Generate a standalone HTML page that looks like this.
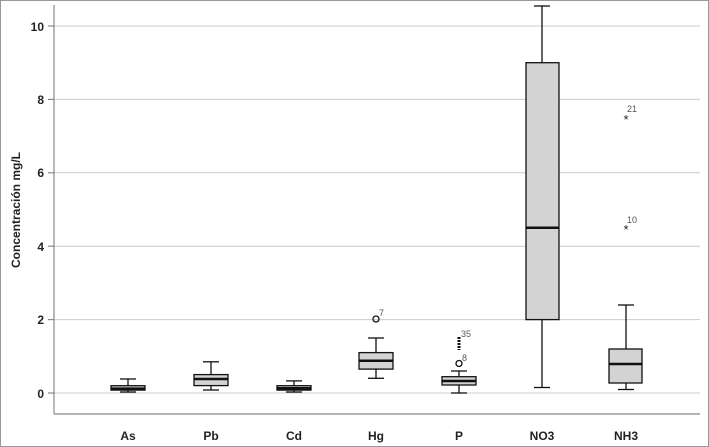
<!DOCTYPE html><html><head><style>body{margin:0;background:#fff}svg{display:block}</style></head><body>
<svg width="709" height="447" xmlns="http://www.w3.org/2000/svg" font-family="Liberation Sans, sans-serif">
<rect x="0.5" y="0.5" width="708" height="446" fill="#fff" stroke="#999"/>
<g stroke="#ccc" stroke-width="1">
<line x1="54" x2="700" y1="26" y2="26"/><line x1="54" x2="700" y1="99.4" y2="99.4"/><line x1="54" x2="700" y1="172.8" y2="172.8"/><line x1="54" x2="700" y1="246.2" y2="246.2"/><line x1="54" x2="700" y1="319.6" y2="319.6"/><line x1="54" x2="700" y1="393" y2="393"/>
</g>
<g stroke="#888" stroke-width="1.2"><line x1="54" y1="5" x2="54" y2="414"/><line x1="54" y1="414" x2="700" y2="414"/>
<line x1="48" x2="54" y1="26" y2="26"/><line x1="48" x2="54" y1="99.4" y2="99.4"/><line x1="48" x2="54" y1="172.8" y2="172.8"/><line x1="48" x2="54" y1="246.2" y2="246.2"/><line x1="48" x2="54" y1="319.6" y2="319.6"/><line x1="48" x2="54" y1="393" y2="393"/></g>
<g font-size="12" font-weight="bold" fill="#222" text-anchor="end"><text x="44" y="31">10</text><text x="44" y="104">8</text><text x="44" y="177">6</text><text x="44" y="251">4</text><text x="44" y="324">2</text><text x="44" y="398">0</text></g>
<text transform="translate(20,210) rotate(-90)" font-size="12" font-weight="bold" fill="#222" text-anchor="middle">Concentración mg/L</text>
<g font-size="12" font-weight="bold" fill="#222" text-anchor="middle"><text x="128" y="440">As</text><text x="211" y="440">Pb</text><text x="294" y="440">Cd</text><text x="376" y="440">Hg</text><text x="459" y="440">P</text><text x="542" y="440">NO3</text><text x="626" y="440">NH3</text></g>
<g stroke="#111" stroke-width="1.3" fill="#d3d3d3">
<line x1="128" x2="128" y1="379" y2="392"/><line x1="120" x2="136" y1="379" y2="379"/><line x1="120" x2="136" y1="392" y2="392"/><rect x="111" y="385.7" width="34" height="4.4"/><line x1="111" x2="145" y1="388.6" y2="388.6" stroke-width="2.5"/>
<line x1="211" x2="211" y1="361.8" y2="390"/><line x1="203" x2="219" y1="361.8" y2="361.8"/><line x1="203" x2="219" y1="390" y2="390"/><rect x="194" y="374.6" width="34" height="11"/><line x1="194" x2="228" y1="379" y2="379" stroke-width="2.5"/>
<line x1="294" x2="294" y1="380.9" y2="392"/><line x1="286" x2="302" y1="380.9" y2="380.9"/><line x1="286" x2="302" y1="392" y2="392"/><rect x="277" y="385.7" width="34" height="4.4"/><line x1="277" x2="311" y1="388.2" y2="388.2" stroke-width="2.5"/>
<line x1="376" x2="376" y1="338" y2="378.3"/><line x1="368" x2="384" y1="338" y2="338"/><line x1="368" x2="384" y1="378.3" y2="378.3"/><rect x="359" y="352.6" width="34" height="16.5"/><line x1="359" x2="393" y1="360.7" y2="360.7" stroke-width="2.5"/>
<circle cx="376" cy="319" r="3" fill="none"/>
<line x1="459" x2="459" y1="371" y2="393"/><line x1="451" x2="467" y1="371" y2="371"/><line x1="451" x2="467" y1="393" y2="393"/><rect x="442" y="376.7" width="34" height="8.3"/><line x1="442" x2="476" y1="381" y2="381" stroke-width="2.5"/>
<circle cx="459" cy="363.5" r="3" fill="none"/>
<line x1="459" x2="459" y1="337" y2="350" stroke-width="3" stroke-dasharray="2 1"/>
<line x1="542" x2="542" y1="6" y2="387.5"/><line x1="534" x2="550" y1="6" y2="6"/><line x1="534" x2="550" y1="387.5" y2="387.5"/><rect x="526" y="62.7" width="33" height="256.9"/><line x1="526" x2="559" y1="227.8" y2="227.8" stroke-width="2.5"/>
<line x1="626" x2="626" y1="305" y2="389.5"/><line x1="618" x2="634" y1="305" y2="305"/><line x1="618" x2="634" y1="389.5" y2="389.5"/><rect x="609" y="349" width="33" height="34"/><line x1="609" x2="642" y1="364" y2="364" stroke-width="2.5"/>
</g>
<g font-size="9" fill="#555"><text x="379" y="316">7</text><text x="462" y="361">8</text><text x="461" y="337">35</text><text x="627" y="112">21</text><text x="627" y="223">10</text></g>
<g font-size="13" fill="#222" text-anchor="middle"><text x="626" y="124">*</text><text x="626" y="234">*</text></g>
</svg></body></html>
